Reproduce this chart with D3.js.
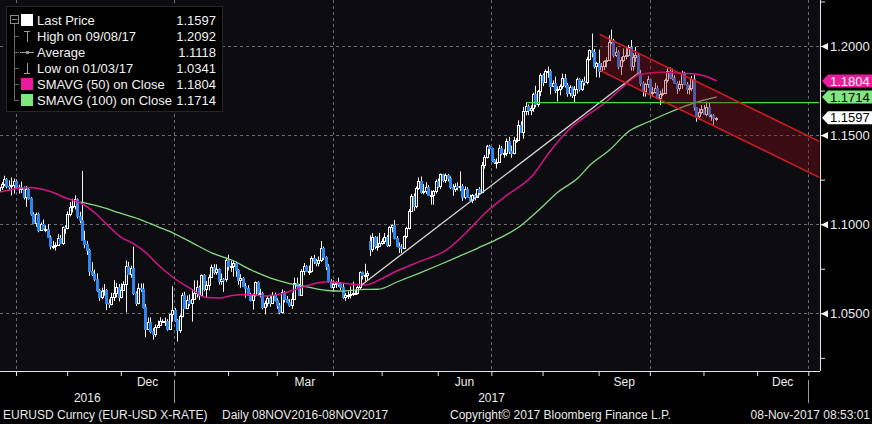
<!DOCTYPE html>
<html>
<head>
<meta charset="utf-8">
<script src="https://cdn.jsdelivr.net/npm/d3@7"></script>
<style>
html, body { margin: 0; padding: 0; background: #000; }
svg { display: block; }
text { font-family: "Liberation Sans", Arial, sans-serif; }
.narrow { font-family: "Liberation Sans Narrow", "Liberation Sans", Arial, sans-serif; }
</style>
</head>
<body>
<div id="chart"></div>
<script>
// EURUSD daily candles, 22 Sep 2016 - 8 Nov 2017 (weekdays), open = previous close
const firstOpen = 1.1187;
const gapOpens = {"2017-04-24": 1.0905};

const closes = [
  // Sep 2016
  1.1210,1.1226,1.1255,1.1215,1.1213,1.1221,1.1240,
  // Oct
  1.1210,1.1205,1.1205,1.1155,1.1200,1.1145,1.1055,1.1005,1.1055,1.0970,1.1000,1.0975,1.0975,1.0930,1.0880,1.0880,1.0885,1.0920,1.0895,1.0985,1.0980,
  // Nov
  1.1055,1.1095,1.1100,1.1140,1.1045,1.1025,1.0910,1.0890,1.0855,1.0735,1.0720,1.0690,1.0630,1.0590,1.0625,1.0630,1.0555,1.0550,1.0590,1.0615,1.0645,1.0590,
  // Dec
  1.0630,1.0665,1.0765,1.0720,1.0755,1.0615,1.0560,1.0640,1.0635,1.0535,1.0410,1.0450,1.0400,1.0385,1.0425,1.0435,1.0455,1.0455,1.0455,1.0410,1.0495,1.0520,
  // Jan 2017
  1.0460,1.0405,1.0485,1.0605,1.0530,1.0575,1.0555,1.0580,1.0615,1.0645,1.0605,1.0715,1.0635,1.0660,1.0705,1.0760,1.0730,1.0750,1.0680,1.0695,1.0690,1.0800,
  // Feb
  1.0765,1.0765,1.0785,1.0745,1.0685,1.0700,1.0655,1.0640,1.0600,1.0575,1.0605,1.0675,1.0615,1.0615,1.0535,1.0555,1.0585,1.0560,1.0600,1.0575,
  // Mar
  1.0545,1.0505,1.0620,1.0580,1.0565,1.0545,1.0580,1.0670,1.0655,1.0605,1.0735,1.0765,1.0740,1.0740,1.0810,1.0795,1.0780,1.0800,1.0865,1.0815,1.0765,1.0680,1.0650,
  // Apr
  1.0665,1.0670,1.0665,1.0645,1.0590,1.0600,1.0605,1.0610,1.0615,1.0615,1.0645,1.0730,1.0715,1.0715,1.0725,1.0860,1.0930,1.0875,1.0875,1.0895,
  // May
  1.0905,1.0930,1.0885,1.0985,1.0995,1.0925,1.0875,1.0870,1.0865,1.0935,1.0980,1.1075,1.1160,1.1100,1.1205,1.1245,1.1180,1.1185,1.1210,1.1165,1.1165,1.1185,1.1245,
  // Jun
  1.1215,1.1280,1.1250,1.1275,1.1260,1.1210,1.1195,1.1215,1.1210,1.1215,1.1150,1.1200,1.1150,1.1135,1.1165,1.1150,1.1195,1.1180,1.1335,1.1375,1.1440,1.1425,
  // Jul
  1.1360,1.1350,1.1350,1.1425,1.1400,1.1400,1.1465,1.1410,1.1400,1.1470,1.1475,1.1555,1.1515,1.1635,1.1665,1.1640,1.1650,1.1730,1.1675,1.1750,1.1840,
  // Aug
  1.1800,1.1860,1.1860,1.1775,1.1790,1.1755,1.1760,1.1775,1.1820,1.1780,1.1735,1.1770,1.1725,1.1760,1.1815,1.1760,1.1805,1.1800,1.1925,1.1975,1.1965,1.1885,1.1905,
  // Sep
  1.1860,1.1890,1.1915,1.1920,1.2020,1.2035,1.1950,1.1965,1.1885,1.1920,1.1945,1.1950,1.1995,1.1890,1.1940,1.1950,1.1850,1.1790,1.1745,1.1785,1.1815,
  // Oct
  1.1735,1.1740,1.1765,1.1710,1.1730,1.1735,1.1810,1.1860,1.1825,1.1820,1.1795,1.1765,1.1785,1.1845,1.1785,1.1760,1.1765,1.1815,1.1655,1.1605,1.1630,1.1645,
  // Nov
  1.1620,1.1655,1.1610,1.1610,1.1595,1.1597
];

const highs = [
  1.1257,1.1236,1.1272,1.1260,1.1246,1.1262,1.1256,
  1.1251,1.1222,1.1239,1.1212,1.1215,1.1203,1.1153,1.1067,1.1065,1.1065,1.1010,1.1026,1.0994,1.1000,1.0937,1.0906,1.0898,1.0944,1.0940,1.0987,1.0994,
  1.1072,1.1125,1.1143,1.1162,1.1145,1.1070,1.1299,1.0963,1.0906,1.0862,1.0787,1.0746,1.0724,1.0637,1.0644,1.0664,1.0637,1.0578,1.0615,1.0686,1.0670,1.0664,
  1.0668,1.0680,1.0796,1.0789,1.0767,1.0874,1.0623,1.0668,1.0668,1.0668,1.0552,1.0476,1.0477,1.0417,1.0438,1.0459,1.0478,1.0466,1.0476,1.0467,1.0497,1.0652,
  1.0530,1.0468,1.0493,1.0615,1.0620,1.0600,1.0606,1.0630,1.0685,1.0685,1.0655,1.0718,1.0720,1.0681,1.0718,1.0773,1.0776,1.0775,1.0752,1.0723,1.0698,1.0812,
  1.0829,1.0796,1.0799,1.0790,1.0748,1.0720,1.0704,1.0670,1.0658,1.0615,1.0610,1.0679,1.0680,1.0638,1.0621,1.0571,1.0600,1.0605,1.0619,1.0616,
  1.0584,1.0558,1.0634,1.0625,1.0597,1.0580,1.0615,1.0700,1.0700,1.0664,1.0747,1.0782,1.0770,1.0768,1.0820,1.0828,1.0805,1.0819,1.0906,1.0875,1.0820,1.0775,1.0691,
  1.0685,1.0679,1.0700,1.0675,1.0666,1.0615,1.0623,1.0651,1.0678,1.0628,1.0655,1.0735,1.0734,1.0778,1.0739,1.0937,1.0950,1.0933,1.0931,1.0951,
  1.0920,1.0951,1.0939,1.0989,1.0998,1.1023,1.0934,1.0897,1.0888,1.0936,1.0985,1.1085,1.1169,1.1173,1.1212,1.1262,1.1268,1.1226,1.1236,1.1219,1.1189,1.1191,1.1251,
  1.1257,1.1285,1.1283,1.1285,1.1282,1.1268,1.1225,1.1229,1.1235,1.1296,1.1225,1.1212,1.1207,1.1166,1.1169,1.1173,1.1198,1.1209,1.1349,1.1388,1.1445,1.1446,
  1.1430,1.1367,1.1369,1.1446,1.1439,1.1420,1.1481,1.1490,1.1441,1.1490,1.1483,1.1583,1.1578,1.1659,1.1683,1.1672,1.1667,1.1738,1.1777,1.1753,1.1847,
  1.1846,1.1868,1.1884,1.1869,1.1807,1.1828,1.1774,1.1785,1.1845,1.1843,1.1792,1.1780,1.1773,1.1775,1.1823,1.1819,1.1813,1.1828,1.1940,1.1981,1.2070,1.1983,1.1911,
  1.1980,1.1905,1.1919,1.1937,1.2060,1.2092,1.2040,1.1993,1.1976,1.1938,1.1986,1.1990,1.2006,1.2034,1.1960,1.1995,1.1955,1.1866,1.1802,1.1792,1.1832,
  1.1815,1.1770,1.1793,1.1778,1.1750,1.1762,1.1817,1.1875,1.1880,1.1873,1.1836,1.1801,1.1806,1.1861,1.1855,1.1798,1.1780,1.1832,1.1837,1.1658,1.1650,1.1668,
  1.1669,1.1688,1.1684,1.1617,1.1618,1.1601
];

const lows = [
  1.1180,1.1192,1.1213,1.1201,1.1189,1.1161,1.1171,
  1.1199,1.1171,1.1175,1.1139,1.1097,1.1138,1.1048,1.1000,1.0985,1.0955,1.0965,1.0970,1.0955,1.0927,1.0858,1.0860,1.0852,1.0880,1.0888,1.0884,1.0946,
  1.0972,1.1044,1.1066,1.1083,1.1032,1.1005,1.0906,1.0865,1.0828,1.0710,1.0709,1.0680,1.0620,1.0570,1.0578,1.0599,1.0518,1.0530,1.0544,1.0569,1.0589,1.0567,
  1.0584,1.0625,1.0505,1.0716,1.0700,1.0602,1.0541,1.0550,1.0620,1.0527,1.0366,1.0409,1.0388,1.0352,1.0368,1.0418,1.0430,1.0445,1.0429,1.0402,1.0413,1.0453,
  1.0453,1.0341,1.0390,1.0477,1.0524,1.0522,1.0542,1.0453,1.0575,1.0589,1.0575,1.0600,1.0625,1.0589,1.0628,1.0699,1.0717,1.0716,1.0661,1.0660,1.0620,1.0677,
  1.0740,1.0733,1.0706,1.0705,1.0660,1.0643,1.0651,1.0587,1.0597,1.0567,1.0521,1.0594,1.0603,1.0589,1.0523,1.0494,1.0537,1.0537,1.0552,1.0567,
  1.0525,1.0495,1.0500,1.0560,1.0557,1.0536,1.0525,1.0575,1.0645,1.0600,1.0598,1.0713,1.0731,1.0715,1.0728,1.0777,1.0764,1.0763,1.0787,1.0800,1.0742,1.0673,1.0640,
  1.0620,1.0642,1.0649,1.0631,1.0581,1.0570,1.0580,1.0583,1.0597,1.0605,1.0605,1.0636,1.0690,1.0680,1.0683,1.0821,1.0845,1.0860,1.0851,1.0873,
  1.0884,1.0889,1.0872,1.0873,1.0954,1.0915,1.0871,1.0838,1.0839,1.0860,1.0920,1.0970,1.1072,1.1075,1.1090,1.1193,1.1172,1.1168,1.1170,1.1160,1.1110,1.1109,1.1172,
  1.1205,1.1197,1.1235,1.1232,1.1240,1.1197,1.1160,1.1181,1.1190,1.1185,1.1131,1.1140,1.1147,1.1133,1.1118,1.1134,1.1146,1.1170,1.1175,1.1312,1.1369,1.1392,
  1.1350,1.1338,1.1313,1.1349,1.1389,1.1373,1.1382,1.1393,1.1373,1.1392,1.1456,1.1467,1.1512,1.1480,1.1611,1.1612,1.1612,1.1630,1.1656,1.1659,1.1719,
  1.1775,1.1794,1.1822,1.1728,1.1772,1.1736,1.1688,1.1723,1.1760,1.1767,1.1715,1.1717,1.1708,1.1681,1.1733,1.1745,1.1749,1.1778,1.1785,1.1919,1.1936,1.1874,1.1825,
  1.1823,1.1856,1.1865,1.1880,1.1917,1.2010,1.1935,1.1939,1.1869,1.1837,1.1909,1.1925,1.1940,1.1862,1.1861,1.1910,1.1838,1.1775,1.1717,1.1716,1.1765,
  1.1718,1.1716,1.1733,1.1702,1.1669,1.1718,1.1734,1.1795,1.1815,1.1807,1.1788,1.1731,1.1748,1.1760,1.1780,1.1730,1.1728,1.1746,1.1637,1.1575,1.1587,1.1617,
  1.1614,1.1605,1.1600,1.1580,1.1555,1.1578
];

// moving averages
const sma50 = [
  ["2016-09-22",1.1181],["2016-10-10",1.1206],["2016-10-20",1.1186],["2016-10-31",1.1147],["2016-11-08",1.1119],
  ["2016-11-16",1.1063],["2016-11-23",1.0996],["2016-12-01",1.0923],["2016-12-07",1.0897],["2016-12-15",1.0838],
  ["2016-12-21",1.0782],["2016-12-30",1.0701],["2017-01-11",1.0631],["2017-01-18",1.0590],["2017-01-26",1.0586],
  ["2017-02-02",1.0600],["2017-02-13",1.0606],["2017-02-22",1.0597],["2017-03-02",1.0608],["2017-03-14",1.0642],
  ["2017-03-23",1.0670],["2017-03-30",1.0677],["2017-04-06",1.0670],["2017-04-20",1.0659],["2017-05-01",1.0698],
  ["2017-05-08",1.0733],["2017-05-22",1.0790],["2017-06-06",1.0855],["2017-06-16",1.0951],["2017-06-28",1.1063],
  ["2017-07-10",1.1154],["2017-07-25",1.1267],["2017-08-04",1.1416],["2017-08-16",1.1540],["2017-08-25",1.1613],
  ["2017-09-05",1.1680],["2017-09-13",1.1753],["2017-09-25",1.1837],["2017-10-05",1.1852],["2017-10-17",1.1848],
  ["2017-10-26",1.1843],["2017-11-01",1.1832],["2017-11-08",1.1804]
];
const sma100 = [
  ["2016-11-08",1.1125],["2016-11-18",1.1098],["2016-11-30",1.1063],["2016-12-12",1.1029],["2016-12-22",1.0984],
  ["2016-12-30",1.0950],["2017-01-11",1.0894],["2017-01-23",1.0838],["2017-02-02",1.0799],["2017-02-14",1.0743],
  ["2017-02-24",1.0698],["2017-03-07",1.0670],["2017-03-17",1.0648],["2017-03-29",1.0628],["2017-04-07",1.0625],
  ["2017-04-19",1.0634],["2017-04-27",1.0635],["2017-05-09",1.0677],["2017-05-22",1.0726],["2017-06-01",1.0771],
  ["2017-06-13",1.0818],["2017-06-23",1.0866],["2017-07-06",1.0923],["2017-07-18",1.0986],["2017-07-28",1.1080],
  ["2017-08-09",1.1182],["2017-08-21",1.1259],["2017-08-28",1.1332],["2017-09-07",1.1416],["2017-09-19",1.1523],
  ["2017-09-29",1.1575],["2017-10-11",1.1624],["2017-10-24",1.1672],["2017-11-01",1.1697],["2017-11-08",1.1714]
];

// drawn annotations
const trendLine = [["2017-04-18",1.0656],["2017-09-25",1.1851]];
const levelLine = [["2017-07-21",1.1682],["2018-01-05",1.1682]];
const channelUpper = [["2017-09-01",1.2065],["2018-01-05",1.1465]];
const channelLower = [["2017-09-01",1.1863],["2018-01-05",1.1263]];

const yTicks = [1.025,1.05,1.075,1.1,1.125,1.15,1.175,1.2,1.225];
const quarterMonths = ["Mar","Jun","Sep","Dec"];

const legendLabels = ["Last Price","High on 09/08/17","Average","Low on 01/03/17","SMAVG (50) on Close","SMAVG (100) on Close"];
const legendValues = ["1.1597","1.2092","1.1118","1.0341","1.1804","1.1714"];
const tags = [
  {v: 1.1804, fill: "#ec1a9c", text: "#fff"},
  {v: 1.1714, fill: "#80e680", text: "#000"},
  {v: 1.1597, fill: "#ffffff", text: "#000"}
];
const footer = ["EURUSD Curncy (EUR-USD X-RATE)","Daily 08NOV2016-08NOV2017","Copyright\u00a9 2017 Bloomberg Finance L.P.","08-Nov-2017 08:53:01"];

// ---------------------------------------------------------------
const W = 872, H = 424;
const plotR = 820, plotB = 371;
const upCol = "#ffffff", dnCol = "#2f86ec";

const days = [];
for (let d = new Date(2016, 8, 22); d <= new Date(2018, 0, 31); d.setDate(d.getDate() + 1)) {
  if (d.getDay() > 0 && d.getDay() < 6) days.push(new Date(d));
}
const fmt = d3.timeFormat("%Y-%m-%d");
const idxOf = new Map(days.map((d, i) => [fmt(d), i]));

const candles = closes.map((c, i) => {
  const key = fmt(days[i]);
  const o = gapOpens[key] !== undefined ? gapOpens[key] : (i ? closes[i - 1] : firstOpen);
  return {i, o, h: highs[i], l: lows[i], c};
});

const x = d3.scaleLinear().domain([-0.05, 336.3]).range([0, plotR]);
const y = d3.scaleLinear().domain([1.2, 1.05]).range([46, 313.3]);
const px = v => Math.round(v) + 0.5;   // crisp 1px lines

const svg = d3.select("#chart").append("svg")
  .attr("width", W)
  .attr("height", H);

svg.append("rect").attr("width", W).attr("height", H).attr("fill", "#000");

svg.append("clipPath").attr("id", "clip")
  .append("rect").attr("width", plotR).attr("height", plotB);

const plot = svg.append("g").attr("clip-path", "url(#clip)");
plot.append("rect").attr("width", plotR).attr("height", plotB).attr("fill", "#0d0d11");

// month boundaries
const months = [];
days.forEach((d, i) => {
  if (i === 0 || d.getMonth() !== days[i - 1].getMonth()) months.push({i, date: d});
});
months.forEach((m, k) => { m.end = k < months.length - 1 ? months[k + 1].i : days.length; });

// grid
plot.selectAll(".hgrid")
  .data([1.05, 1.1, 1.15, 1.2])
  .enter().append("line")
  .attr("x1", 0).attr("x2", plotR)
  .attr("y1", d => px(y(d))).attr("y2", d => px(y(d)))
  .attr("stroke", "#6a6a6a").attr("stroke-dasharray", "3,3").attr("stroke-width", 1);

plot.selectAll(".vgrid")
  .data(months.filter(m => m.date.getMonth() % 3 === 0))
  .enter().append("line")
  .attr("x1", d => px(x(d.i - 0.5))).attr("x2", d => px(x(d.i - 0.5)))
  .attr("y1", 0).attr("y2", plotB)
  .attr("stroke", "#6a6a6a").attr("stroke-dasharray", "3,3").attr("stroke-width", 1);

// candles
const cg = plot.append("g");
cg.selectAll(".wick")
  .data(candles)
  .enter().append("line")
  .attr("x1", d => Math.round(x(d.i)) - 0.5).attr("x2", d => Math.round(x(d.i)) - 0.5)
  .attr("y1", d => y(d.h)).attr("y2", d => y(d.l))
  .attr("stroke", "#f4f4f4").attr("stroke-width", 1);

cg.selectAll(".body")
  .data(candles)
  .enter().append("rect")
  .attr("x", d => Math.round(x(d.i)) - 1.5)
  .attr("width", 2)
  .attr("y", d => Math.round(y(Math.max(d.o, d.c))) + 0.5)
  .attr("height", d => Math.max(1, Math.round(y(Math.min(d.o, d.c))) - Math.round(y(Math.max(d.o, d.c)))))
  .attr("fill", d => d.c >= d.o ? "#1a1a1e" : dnCol)
  .attr("stroke", d => d.c >= d.o ? upCol : dnCol)
  .attr("stroke-width", 1);

// lines
const line = d3.line()
  .x(d => x(idxOf.get(d[0])))
  .y(d => y(d[1]));

plot.append("path").datum(sma100)
  .attr("d", line.curve(d3.curveMonotoneX))
  .attr("fill", "none").attr("stroke", "#86d886").attr("stroke-width", 1.3);
plot.append("path").datum(sma50)
  .attr("d", line.curve(d3.curveMonotoneX))
  .attr("fill", "none").attr("stroke", "#d4168a").attr("stroke-width", 1.5);

line.curve(d3.curveLinear);
plot.append("path").datum(trendLine)
  .attr("d", line).attr("stroke", "#d8d8d8").attr("stroke-width", 1.3).attr("fill", "none");
plot.append("path").datum(levelLine)
  .attr("d", line).attr("stroke", "#3ee03e").attr("stroke-width", 1.3).attr("fill", "none");

// channel
const chan = channelUpper.concat(channelLower.slice().reverse());
plot.append("path").datum(chan)
  .attr("d", d => line(d) + "Z")
  .attr("fill", "rgba(140,10,20,0.35)");
[channelUpper, channelLower].forEach(c => {
  plot.append("path").datum(c)
    .attr("d", line).attr("stroke", "#d41c24").attr("stroke-width", 1.5).attr("fill", "none");
});

// right axis
const isMajor = d => Math.abs(d * 20 - Math.round(d * 20)) < 1e-6;
const yAxis = d3.axisRight(y)
  .tickValues(yTicks)
  .tickSize(5)
  .tickFormat(d => isMajor(d) ? d3.format(".4f")(d) : "");
const ya = svg.append("g")
  .attr("transform", `translate(${plotR},0)`)
  .call(yAxis);
ya.select(".domain").attr("stroke", "#e6e6e6").attr("d", `M0.5,0V${plotB}`);
ya.selectAll(".tick line").attr("stroke", "#e6e6e6");
ya.selectAll(".tick text")
  .attr("x", 10)
  .attr("fill", "#ececec")
  .style("font-size", "13px")
  .style("font-family", "Liberation Sans, Arial, sans-serif");
ya.selectAll(".tick")
  .filter(isMajor)
  .append("path")
  .attr("d", "M1,0L8,-3.5L8,3.5Z")
  .attr("fill", "#f4f4f4");

// value tags
const tg = svg.selectAll(".tag").data(tags).enter().append("g");
tg.append("path")
  .attr("d", d => { const c = y(d.v); return `M822,${c}L828,${c - 6.5}L872,${c - 6.5}L872,${c + 6.5}L828,${c + 6.5}Z`; })
  .attr("fill", d => d.fill);
tg.append("text")
  .attr("x", 830).attr("y", d => y(d.v)).attr("dy", "0.36em")
  .attr("fill", d => d.text)
  .style("font-size", "13px")
  .text(d => d3.format(".4f")(d.v));

// bottom axis
const xa = svg.append("g")
  .attr("transform", `translate(0,${plotB})`)
  .call(d3.axisBottom(x).tickValues(months.filter(m => x(m.i - 0.5) > 0 && x(m.i - 0.5) < plotR).map(m => m.i - 0.5)).tickSize(5).tickFormat(""));
xa.select(".domain").attr("stroke", "#e6e6e6").attr("d", `M0,0.5H${plotR}`);
xa.selectAll(".tick line").attr("stroke", "#e6e6e6");

const qLabels = months
  .map(m => ({m, cx: (x(m.i - 0.5) + x(m.end - 0.5)) / 2}))
  .filter(d => d.m.date.getMonth() % 3 === 2 && d.cx > 30 && d.cx < plotR);
svg.selectAll(".mlab")
  .data(qLabels)
  .enter().append("text")
  .attr("class", "narrow")
  .attr("x", d => d.cx)
  .attr("y", 386)
  .attr("text-anchor", "middle")
  .attr("fill", "#ececec")
  .style("font-size", "12px")
  .text(d => quarterMonths[Math.floor(d.m.date.getMonth() / 3)]);

const yearB = months.filter(m => m.date.getMonth() === 0).map(m => px(x(m.i - 0.5)));
const yearSpans = [[0, yearB[0], "2016"], [yearB[0], yearB[1], "2017"]];
svg.selectAll(".ylab").data(yearSpans).enter().append("text")
  .attr("class", "narrow")
  .attr("x", d => (d[0] + d[1]) / 2)
  .attr("y", 402)
  .attr("text-anchor", "middle")
  .attr("fill", "#ececec")
  .style("font-size", "12px")
  .text(d => d[2]);
svg.selectAll(".ysep").data(yearB).enter().append("line")
  .attr("x1", d => d).attr("x2", d => d)
  .attr("y1", 380).attr("y2", 403)
  .attr("stroke", "#9a9a9a");

// footer
const fx = [3, 222, 450, 870];
svg.selectAll(".foot").data(footer).enter().append("text")
  .attr("class", "narrow")
  .attr("x", (d, i) => fx[i])
  .attr("y", 419)
  .attr("text-anchor", (d, i) => i === 3 ? "end" : "start")
  .attr("fill", "#e8e8e8")
  .style("font-size", "12px")
  .text(d => d);

// legend
const lg = svg.append("g");
lg.append("rect").attr("x", 6.5).attr("y", 6.5).attr("width", 216).attr("height", 105)
  .attr("fill", "#000").attr("stroke", "#262626");
const rowY = d3.range(6).map(k => 20 + k * 16);
lg.append("rect").attr("x", 10.5).attr("y", 15.5).attr("width", 8).attr("height", 8)
  .attr("fill", "none").attr("stroke", "#8a8a8a");
lg.append("line").attr("x1", 12).attr("x2", 17).attr("y1", 19.5).attr("y2", 19.5).attr("stroke", "#8a8a8a");
lg.append("line").attr("x1", 14.5).attr("x2", 14.5).attr("y1", 24).attr("y2", rowY[5] + 0.5).attr("stroke", "#6a6a6a");
lg.selectAll(".branch").data(rowY.slice(1)).enter().append("line")
  .attr("x1", 14).attr("x2", 19).attr("y1", d => d + 0.5).attr("y2", d => d + 0.5).attr("stroke", "#6a6a6a");
lg.append("rect").attr("x", 21).attr("y", rowY[0] - 6).attr("width", 12).attr("height", 12).attr("fill", "#fff");
lg.append("rect").attr("x", 21).attr("y", rowY[4] - 6).attr("width", 12).attr("height", 12).attr("fill", "#ec1a9c");
lg.append("rect").attr("x", 21).attr("y", rowY[5] - 6).attr("width", 12).attr("height", 12).attr("fill", "#80e680");
lg.append("path").attr("d", `M24,${rowY[1] - 4.5}H30M27.5,${rowY[1] - 5}V${rowY[1] + 6}`).attr("stroke", "#9a9a9a").attr("fill", "none");
lg.append("path").attr("d", `M20,${rowY[2] + 0.5}H34`).attr("stroke", "#9a9a9a");
lg.append("circle").attr("cx", 27.5).attr("cy", rowY[2] + 0.5).attr("r", 1.8).attr("fill", "#9a9a9a");
lg.append("path").attr("d", `M24,${rowY[3] + 5.5}H30M27.5,${rowY[3] + 6}V${rowY[3] - 5}`).attr("stroke", "#9a9a9a").attr("fill", "none");

lg.selectAll(".ltxt").data(legendLabels).enter().append("text")
  .attr("x", 37).attr("y", (d, i) => rowY[i]).attr("dy", "0.36em")
  .attr("fill", "#f2f2f2").style("font-size", "13px")
  .text(d => d);
lg.selectAll(".lval").data(legendValues).enter().append("text")
  .attr("x", 216).attr("y", (d, i) => rowY[i]).attr("dy", "0.36em")
  .attr("text-anchor", "end")
  .attr("fill", "#f2f2f2").style("font-size", "13px")
  .text(d => d);
</script>
</body>
</html>
